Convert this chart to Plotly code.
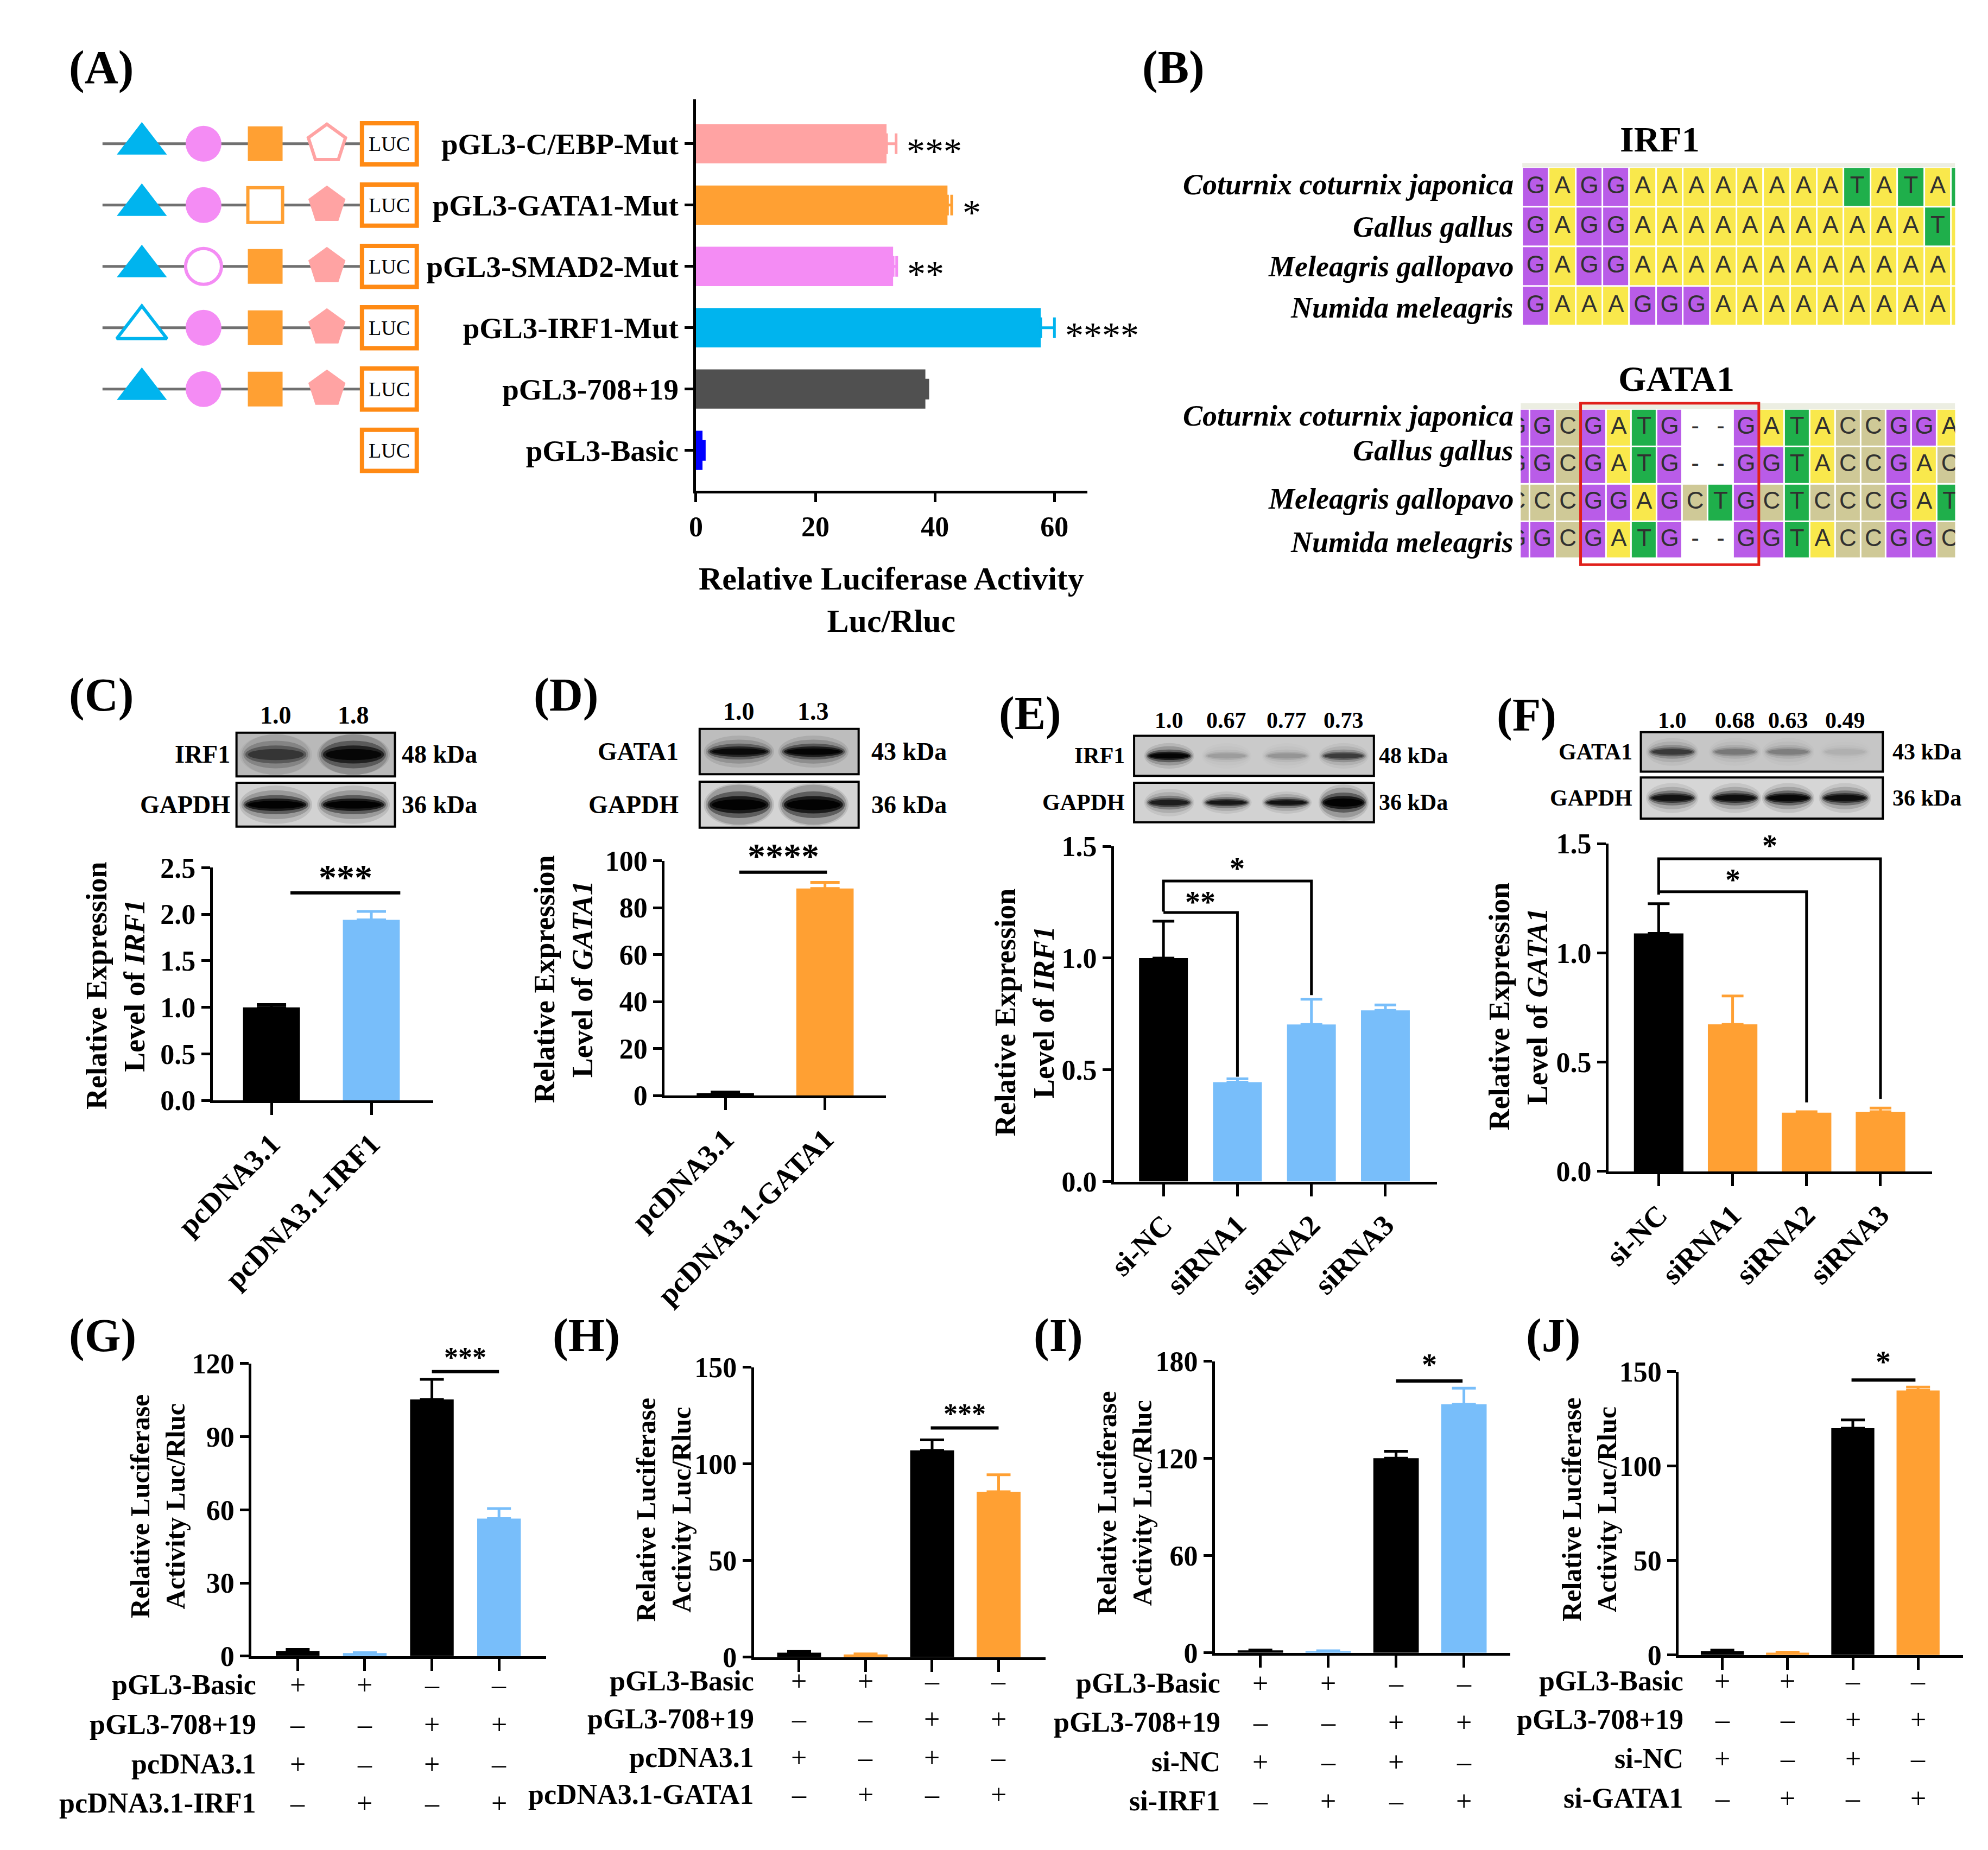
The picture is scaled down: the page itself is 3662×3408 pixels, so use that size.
import plotly.graph_objects as go

W, H = 3662, 3408
SERIF = "Liberation Serif"
SANS = "Liberation Sans"

def px(v):
    return v / W

def py(v):
    return 1 - v / H

# ======================= DATA =======================
# (A) luciferase of mutant constructs
a_constructs = ["pGL3-C/EBP-Mut", "pGL3-GATA1-Mut", "pGL3-SMAD2-Mut", "pGL3-IRF1-Mut", "pGL3-708+19", "pGL3-Basic"]
a_values = [31.9, 42.1, 33.0, 57.7, 38.4, 1.1]
a_errors = [1.6, 0.7, 0.6, 2.3, 0.4, 0.3]
a_stars = ["***", "*", "**", "****", "", ""]
a_colors = ["#FFA3A3", "#FFA033", "#F48CF4", "#00B4EE", "#505050", "#0000FF"]
a_sites = ["IRF1", "SMAD2", "GATA1", "C/EBP"]
a_site_symbols = ["triangle-up", "circle", "square", "pentagon"]
a_site_sizes = [80, 66, 64, 72]
a_site_colors = ["#00B4EE", "#F48CF4", "#FFA033", "#FFA3A3"]
a_mutated_site = ["C/EBP", "GATA1", "SMAD2", "IRF1", None, None]
a_has_promoter = [True, True, True, True, True, False]

# (B) alignments
b_species = ["Coturnix coturnix japonica", "Gallus gallus", "Meleagris gallopavo", "Numida meleagris"]
b_irf1_seqs = ["GAGGAAAAAAAATATAT", "GAGGAAAAAAAAAAATA", "GAGGAAAAAAAAAAAAA", "GAAAGGGAAAAAAAAAA"]
b_gata1_seqs = ["GGCGATG--GATACCGGA", "GGCGATG--GGTACCGAC", "CCCGGAGCTGCTCCCGAT", "GGCGATG--GGTACCGGC"]
b_bases = ["A", "C", "G", "T", "-"]
b_base_colors = ["#F9E84C", "#CFC997", "#B95CE8", "#1FAF4B", "#FFFFFF"]

# (C) IRF1 overexpression
c_groups = ["pcDNA3.1", "pcDNA3.1-IRF1"]
c_values = [1.0, 1.94]
c_errors = [0.03, 0.09]
c_colors = ["#000000", "#78BEFA"]
c_ratio = ["1.0", "1.8"]
c_band_target = [0.45, 0.9]
c_band_gapdh = [1.0, 1.0]

# (D) GATA1 overexpression
d_groups = ["pcDNA3.1", "pcDNA3.1-GATA1"]
d_values = [1.0, 88.2]
d_errors = [0.5, 2.6]
d_colors = ["#000000", "#FFA033"]
d_ratio = ["1.0", "1.3"]
d_band_target = [0.85, 0.95]
d_band_gapdh = [1.0, 1.0]

# (E) IRF1 knockdown
e_groups = ["si-NC", "siRNA1", "siRNA2", "siRNA3"]
e_values = [1.0, 0.445, 0.703, 0.766]
e_errors = [0.165, 0.015, 0.113, 0.024]
e_colors = ["#000000", "#78BEFA", "#78BEFA", "#78BEFA"]
e_ratio = ["1.0", "0.67", "0.77", "0.73"]
e_band_target = [0.95, 0.1, 0.12, 0.45]
e_band_gapdh = [0.65, 0.7, 0.75, 1.0]
e_gapdh_height = [1.0, 0.8, 0.8, 1.45]

# (F) GATA1 knockdown
f_groups = ["si-NC", "siRNA1", "siRNA2", "siRNA3"]
f_values = [1.089, 0.673, 0.269, 0.273]
f_errors = [0.136, 0.130, 0.004, 0.017]
f_colors = ["#000000", "#FFA033", "#FFA033", "#FFA033"]
f_ratio = ["1.0", "0.68", "0.63", "0.49"]
f_band_target = [0.45, 0.2, 0.18, 0.05]
f_band_gapdh = [0.75, 0.8, 0.9, 0.8]

# (G)-(J) luciferase co-transfection
table_signs = [["+", "+", "–", "–"], ["–", "–", "+", "+"], ["+", "–", "+", "–"], ["–", "+", "–", "+"]]
g_rows = ["pGL3-Basic", "pGL3-708+19", "pcDNA3.1", "pcDNA3.1-IRF1"]
g_values = [2.1, 1.2, 105.3, 56.4]
g_errors = [0.6, 0.2, 8.2, 4.1]
g_colors = ["#000000", "#78BEFA", "#000000", "#78BEFA"]
h_rows = ["pGL3-Basic", "pGL3-708+19", "pcDNA3.1", "pcDNA3.1-GATA1"]
h_values = [2.3, 1.4, 107.0, 85.6]
h_errors = [0.6, 0.3, 5.4, 8.8]
h_colors = ["#000000", "#FFA033", "#000000", "#FFA033"]
i_rows = ["pGL3-Basic", "pGL3-708+19", "si-NC", "si-IRF1"]
i_values = [1.5, 1.0, 120.2, 153.5]
i_errors = [0.3, 0.3, 4.3, 10.0]
i_colors = ["#000000", "#78BEFA", "#000000", "#78BEFA"]
j_rows = ["pGL3-Basic", "pGL3-708+19", "si-NC", "si-GATA1"]
j_values = [2.1, 1.2, 120.0, 140.0]
j_errors = [0.5, 0.3, 4.4, 1.8]
j_colors = ["#000000", "#FFA033", "#000000", "#FFA033"]

# ======================= HELPERS =======================
fig = go.Figure()
axes = {}
annotations = []
shapes = []

TICKFONT = dict(family=SERIF, size=52, color="black", weight="bold")


def ptext(x, y, s, size, xanchor="center", yanchor="middle", weight="bold", style="normal",
          angle=0, family=SERIF, color="black"):
    annotations.append(dict(x=px(x), y=py(y), xref="paper", yref="paper", text=s, showarrow=False,
                            font=dict(family=family, size=size, color=color, weight=weight, style=style),
                            xanchor=xanchor, yanchor=yanchor, textangle=angle, align="center"))


def yval_to_paper(yr, v):
    ax = axes["yaxis" + yr[1:]]
    d0, d1 = ax["domain"]
    r0, r1 = ax["range"]
    return d0 + (v - r0) / (r1 - r0) * (d1 - d0)


def atext(xr, yr, x, y, s, size, xanchor="center", yanchor="middle", weight="bold", family=SERIF):
    # y given in data units, converted to paper so text outside the axis range still shows
    annotations.append(dict(x=x, y=yval_to_paper(yr, y), xref=xr, yref="paper", text=s, showarrow=False,
                            font=dict(family=family, size=size, color="black", weight=weight),
                            xanchor=xanchor, yanchor=yanchor))


def add_axes(n, x0, x1, ytop, ybot, xrange, yrange, xkw=None, ykw=None):
    s = "" if n == 1 else str(n)
    xa = dict(domain=[px(x0), px(x1)], range=xrange, anchor="y" + s, showgrid=False, zeroline=False,
              fixedrange=True, visible=False)
    ya = dict(domain=[py(ybot), py(ytop)], range=yrange, anchor="x" + s, showgrid=False, zeroline=False,
              fixedrange=True, visible=False)
    if xkw:
        xa.update(xkw)
    if ykw:
        ya.update(ykw)
    axes["xaxis" + s] = xa
    axes["yaxis" + s] = ya
    return "x" + s, "y" + s


def line_axis(**kw):
    d = dict(visible=True, showline=True, linecolor="black", linewidth=5, ticks="outside", ticklen=18,
             tickwidth=5, tickcolor="black", tickfont=TICKFONT)
    d.update(kw)
    return d


def bars(xr, yr, values, errors, colors, width, cap, horizontal=False, positions=None):
    pos = positions if positions is not None else list(range(len(values)))
    for i in range(len(values)):
        err = dict(type="data", array=[errors[i]], arrayminus=[0], symmetric=False,
                   color=colors[i], thickness=5, width=cap)
        if horizontal:
            fig.add_trace(go.Bar(x=[values[i]], y=[pos[i]], orientation="h", width=width,
                                 marker=dict(color=colors[i], line=dict(width=0)), error_x=err,
                                 xaxis=xr, yaxis=yr, showlegend=False, hoverinfo="skip"))
        else:
            fig.add_trace(go.Bar(x=[pos[i]], y=[values[i]], width=width,
                                 marker=dict(color=colors[i], line=dict(width=0)), error_y=err,
                                 xaxis=xr, yaxis=yr, showlegend=False, hoverinfo="skip"))


def aline(xr, yr, pts, width=5):
    path = "M " + " L ".join(f"{x},{y}" for x, y in pts)
    shapes.append(dict(type="path", xref=xr, yref=yr, path=path, line=dict(color="black", width=width)))


def band(cx, cy, w, h, d, hmax):
    # soft, flat western-blot band made of stacked translucent ellipses (kept inside the strip)
    for sw, sh, op in [(1.12, 2.0, 0.10), (1.06, 1.5, 0.18), (1.0, 1.0, 0.40), (0.94, 0.65, 0.7),
                       (0.86, 0.4, 0.9)]:
        hh = min(h * sh, hmax)
        shapes.append(dict(type="circle", xref="paper", yref="paper",
                           x0=px(cx - w * sw / 2), x1=px(cx + w * sw / 2),
                           y0=py(cy + hh / 2), y1=py(cy - hh / 2),
                           fillcolor="black", opacity=min(1.0, op * d), line=dict(width=0)))


def blot(box_x, strips, labels, kdas, label_right, kda_left, lanes, ratios, ratio_y, fsize,
         target_dark, gapdh_dark, band_w, band_h, gapdh_hscale=None):
    for (y0, y1, bg) in strips:
        shapes.append(dict(type="rect", xref="paper", yref="paper", x0=px(box_x[0]), x1=px(box_x[1]),
                           y0=py(y1), y1=py(y0), fillcolor=bg, line=dict(width=0)))
    for k, darks in enumerate([target_dark, gapdh_dark]):
        y0, y1, _ = strips[k]
        cy = (y0 + y1) / 2
        for li, (lx, dk) in enumerate(zip(lanes, darks)):
            hs = gapdh_hscale[li] if (k == 1 and gapdh_hscale) else 1.0
            band(lx, cy, band_w, band_h[k] * hs, dk, (y1 - y0) - 6)
    for (y0, y1, bg), lab, kd in zip(strips, labels, kdas):
        shapes.append(dict(type="rect", xref="paper", yref="paper", x0=px(box_x[0]), x1=px(box_x[1]),
                           y0=py(y1), y1=py(y0), line=dict(color="black", width=4)))
        ptext(label_right, (y0 + y1) / 2, lab, fsize, xanchor="right")
        ptext(kda_left, (y0 + y1) / 2, kd, fsize, xanchor="left")
    for lx, t in zip(lanes, ratios):
        ptext(lx, ratio_y, t, fsize)


def table(xr, label_right, rows_px, row_labels):
    for r, (lab, ypx) in enumerate(zip(row_labels, rows_px)):
        ptext(label_right, ypx, lab, 52, xanchor="right")
        for c, s in enumerate(table_signs[r]):
            annotations.append(dict(x=c, y=py(ypx), xref=xr, yref="paper", text=s, showarrow=False,
                                    font=dict(family=SERIF, size=52, color="black"),
                                    xanchor="center", yanchor="middle"))

# ======================= PANEL A =======================
n_a = len(a_constructs)
rows_y = [n_a - 1 - i for i in range(n_a)]
xA, yA = add_axes(1, 1224, 1960, 150, 883, [0, 65.5], [-0.66, 5.72],
                  xkw=line_axis(tickvals=[0, 20, 40, 60], ticklen=16),
                  ykw=line_axis(tickvals=rows_y, ticktext=a_constructs, ticklen=16,
                                tickfont=dict(TICKFONT, size=55)))
bars(xA, yA, a_values, a_errors, a_colors, 0.64, 19, horizontal=True, positions=rows_y)
for v, e, s, y in zip(a_values, a_errors, a_stars, rows_y):
    if s:
        atext(xA, yA, v + e + 1.6, y - 0.12, s, 68, xanchor="left", weight="normal")
ptext(1592, 1087, "Relative Luciferase Activity<br>Luc/Rluc", 60)

# diagram
xD, yD = add_axes(2, 0, 740, 150, 883, [-1.569, 4.81], [-0.66, 5.72])
lx, ly = [], []
for y, has in zip(rows_y, a_has_promoter):
    if has:
        lx += [-0.638, 3.57, None]
        ly += [y, y, None]
fig.add_trace(go.Scatter(x=lx, y=ly, mode="lines", line=dict(color="#707070", width=5),
                         xaxis=xD, yaxis=yD, showlegend=False, hoverinfo="skip"))
for k, (site, sym, size, col) in enumerate(zip(a_sites, a_site_symbols, a_site_sizes, a_site_colors)):
    xs, ys, fills, lws = [], [], [], []
    for y, has, mut in zip(rows_y, a_has_promoter, a_mutated_site):
        if not has:
            continue
        xs.append(k)
        ys.append(y)
        fills.append("white" if mut == site else col)
        lws.append(6 if mut == site else 0)
    fig.add_trace(go.Scatter(x=xs, y=ys, mode="markers",
                             marker=dict(symbol=sym, size=size, color=fills,
                                         line=dict(color=col, width=lws)),
                             xaxis=xD, yaxis=yD, showlegend=False, hoverinfo="skip"))
for y in rows_y:
    shapes.append(dict(type="rect", xref=xD, yref=yD, x0=3.569, x1=4.457, y0=y - 0.335, y1=y + 0.335,
                       line=dict(color="#FF8A14", width=8), fillcolor="white"))
    atext(xD, yD, 4.013, y, "LUC", 38, weight="normal")

# ======================= PANEL B =======================
def alignment(n, x0, x1, ytop, ybot, xrange, yrange, seqs):
    xr, yr = add_axes(n, x0, x1, ytop, ybot, xrange, yrange)
    z = [[b_bases.index(ch) for ch in s] for s in seqs]
    cs = []
    for i, c in enumerate(b_base_colors):
        cs.append([i / 5, c])
        cs.append([(i + 1) / 5, c])
    fig.add_trace(go.Heatmap(z=z, x=list(range(len(seqs[0]))), y=list(range(len(seqs))),
                             colorscale=cs, zmin=-0.5, zmax=4.5, showscale=False, xgap=3, ygap=3,
                             xaxis=xr, yaxis=yr, hoverinfo="skip"))
    tx, ty, tt = [], [], []
    for r, s in enumerate(seqs):
        for c, ch in enumerate(s):
            tx.append(c)
            ty.append(r)
            tt.append(ch)
    fig.add_trace(go.Scatter(x=tx, y=ty, text=tt, mode="text",
                             textfont=dict(family=SANS, size=44, color="#303030"),
                             xaxis=xr, yaxis=yr, showlegend=False, hoverinfo="skip"))
    shapes.append(dict(type="rect", xref=xr, yref=yr, x0=xrange[0], x1=xrange[1],
                       y0=-0.5, y1=yrange[1] + 0.05, fillcolor="#ECEEE2", line=dict(width=0)))
    return xr, yr

alignment(3, 2778, 3592, 265, 580, [-0.5, 15.65], [3.58, -0.66], b_irf1_seqs)
xG1, yG1 = alignment(4, 2775, 3592, 715, 1025, [0.146, 17.21], [3.714, -0.714], b_gata1_seqs)
shapes.append(dict(type="rect", xref=xG1, yref=yG1, x0=2.5, x1=9.5, y0=-0.66, y1=3.66,
                   line=dict(color="#E0201B", width=5)))
ptext(3037, 224, "IRF1", 66)
ptext(3068, 673, "GATA1", 66)
for sp, yy in zip(b_species, [309, 389, 463, 540]):
    ptext(2764, yy, sp, 54, xanchor="right", style="italic")
for sp, yy in zip(b_species, [742, 808, 898, 979]):
    ptext(2764, yy, sp, 54, xanchor="right", style="italic")

# ======================= PANEL C =======================
xC, yC = add_axes(5, 315, 730, 1589, 2025, [-0.59, 1.62], [0, 2.5],
                  xkw=line_axis(tickvals=[0, 1], ticktext=c_groups, tickangle=-45, ticklen=22,
                                tickfont=dict(TICKFONT, size=54)),
                  ykw=line_axis(tickvals=[0, 0.5, 1.0, 1.5, 2.0, 2.5], tickformat=".1f", ticklen=16))
bars(xC, yC, c_values, c_errors, c_colors, 0.57, 27)
aline(xC, yC, [(0.19, 2.23), (1.29, 2.23)], 6)
atext(xC, yC, 0.74, 2.4, "***", 66)
ptext(132, 1810, "Relative Expression<br>Level of <i>IRF1</i>", 54, angle=-90)
blot((360, 658), [(1336, 1418, "#B9B9B9"), (1430, 1512, "#D2D2D2")], ["IRF1", "GAPDH"],
     ["48 kDa", "36 kDa"], 350, 669, [434, 580], c_ratio, 1303, 46,
     c_band_target, c_band_gapdh, 122, [52, 36])

# ======================= PANEL D =======================
xDd, yDd = add_axes(6, 1165, 1581, 1576, 2016, [-0.61, 1.61], [0, 100],
                    xkw=line_axis(tickvals=[0, 1], ticktext=d_groups, tickangle=-45, ticklen=22,
                                  tickfont=dict(TICKFONT, size=54)),
                    ykw=line_axis(tickvals=[0, 20, 40, 60, 80, 100], ticklen=16))
bars(xDd, yDd, d_values, d_errors, d_colors, 0.575, 27)
aline(xDd, yDd, [(0.14, 95.1), (1.02, 95.1)], 6)
atext(xDd, yDd, 0.58, 102, "****", 66)
ptext(975, 1798, "Relative Expression<br>Level of <i>GATA1</i>", 54, angle=-90)
blot((1231, 1530), [(1329, 1414, "#BDBDBD"), (1428, 1514, "#D4D4D4")], ["GATA1", "GAPDH"],
     ["43 kDa", "36 kDa"], 1193, 1552, [1305, 1445], d_ratio, 1296, 46,
     d_band_target, d_band_gapdh, 118, [30, 50])

# ======================= PANEL E =======================
xE, yE = add_axes(7, 2010, 2618, 1549, 2177, [-0.67, 3.7], [0, 1.5],
                  xkw=line_axis(tickvals=[0, 1, 2, 3], ticktext=e_groups, tickangle=-45, ticklen=22,
                                tickfont=dict(TICKFONT, size=54)),
                  ykw=line_axis(tickvals=[0, 0.5, 1.0, 1.5], tickformat=".1f", ticklen=16))
bars(xE, yE, e_values, e_errors, e_colors, 0.66, 20)
aline(xE, yE, [(0, 1.208), (0, 1.345), (2, 1.345), (2, 0.834)], 5)
aline(xE, yE, [(0, 1.204), (1, 1.204), (1, 0.469)], 5)
atext(xE, yE, 0.5, 1.25, "**", 56)
atext(xE, yE, 1.0, 1.40, "*", 56)
ptext(1842, 1860, "Relative Expression<br>Level of <i>IRF1</i>", 54, angle=-90)
blot((2048, 2499), [(1342, 1417, "#CACACA"), (1430, 1504, "#D2D2D2")], ["IRF1", "GAPDH"],
     ["48 kDa", "36 kDa"], 2033, 2506, [2114, 2222, 2335, 2442], e_ratio, 1313, 42,
     e_band_target, e_band_gapdh, 84, [24, 26], gapdh_hscale=e_gapdh_height)

# ======================= PANEL F =======================
xF, yF = add_axes(8, 2940, 3549, 1544, 2158, [-0.68, 3.7], [0, 1.5],
                  xkw=line_axis(tickvals=[0, 1, 2, 3], ticktext=f_groups, tickangle=-45, ticklen=22,
                                tickfont=dict(TICKFONT, size=54)),
                  ykw=line_axis(tickvals=[0, 0.5, 1.0, 1.5], tickformat=".1f", ticklen=16))
bars(xF, yF, f_values, f_errors, f_colors, 0.67, 20)
aline(xF, yF, [(0, 1.267), (0, 1.431), (3, 1.431), (3, 0.331)], 5)
aline(xF, yF, [(0, 1.28), (2, 1.28), (2, 0.316)], 5)
atext(xF, yF, 1.5, 1.49, "*", 56)
atext(xF, yF, 1.0, 1.335, "*", 56)
ptext(2771, 1849, "Relative Expression<br>Level of <i>GATA1</i>", 54, angle=-90)
blot((3001, 3456), [(1335, 1409, "#C6C6C6"), (1420, 1497, "#D6D6D6")], ["GATA1", "GAPDH"],
     ["43 kDa", "36 kDa"], 2987, 3472, [3060, 3178, 3278, 3385], f_ratio, 1313, 42,
     f_band_target, f_band_gapdh, 88, [26, 28])

# ======================= PANELS G-J =======================
def luc_panel(n, x0, x1, ytop, ybot, xrange, top, dtick, values, errors, colors, width,
              sig_x, sig_y, star, star_y, star_size, title_x, title_y, label_right, rows_px, row_labels):
    xr, yr = add_axes(n, x0, x1, ytop, ybot, xrange, [0, top],
                      xkw=line_axis(tickvals=[0, 1, 2, 3], showticklabels=False, ticklen=22),
                      ykw=line_axis(tickvals=list(range(0, top + 1, dtick)), ticklen=16))
    bars(xr, yr, values, errors, colors, width, 22)
    aline(xr, yr, [(sig_x[0], sig_y), (sig_x[1], sig_y)], 6)
    atext(xr, yr, (sig_x[0] + sig_x[1]) / 2, star_y, star, star_size)
    ptext(title_x, title_y, "Relative Luciferase<br>Activity Luc/Rluc", 50, angle=-90)
    table(xr, label_right, rows_px, row_labels)

luc_panel(9, 388, 942, 2518, 3066, [-0.69, 3.7], 120, 30, g_values, g_errors, g_colors, 0.65,
          (2.0, 3.0), 116.7, "***", 122.5, 52, 212, 2786, 399, [3120, 3194, 3268, 3341], g_rows)
luc_panel(10, 1333, 1882, 2525, 3068, [-0.68, 3.71], 150, 50, h_values, h_errors, h_colors, 0.66,
          (1.98, 3.0), 118.6, "***", 126, 52, 1163, 2792, 1335, [3113, 3184, 3256, 3325], h_rows)
luc_panel(11, 2200, 2755, 2514, 3060, [-0.67, 3.68], 180, 60, i_values, i_errors, i_colors, 0.67,
          (2.0, 2.98), 167.9, "*", 178, 56, 2030, 2779, 2212, [3117, 3190, 3264, 3337], i_rows)
luc_panel(12, 3072, 3607, 2533, 3064, [-0.67, 3.69], 150, 50, j_values, j_errors, j_colors, 0.66,
          (1.98, 2.96), 145.5, "*", 155, 56, 2904, 2792, 3083, [3113, 3185, 3258, 3332], j_rows)

# ======================= PANEL LABELS =======================
for lab, (x, y) in zip("ABCDEFGHIJ", [(106, 89), (2122, 89), (106, 1265), (980, 1265), (1852, 1300),
                                      (2786, 1303), (108, 2465), (1018, 2465), (1906, 2465), (2836, 2465)]):
    ptext(x, y, f"({lab})", 86)

fig.update_layout(width=W, height=H, margin=dict(l=0, r=0, t=0, b=0), paper_bgcolor="white",
                  plot_bgcolor="white", barmode="overlay", showlegend=False,
                  annotations=annotations, shapes=shapes, **axes)
fig.write_html("out.html")
